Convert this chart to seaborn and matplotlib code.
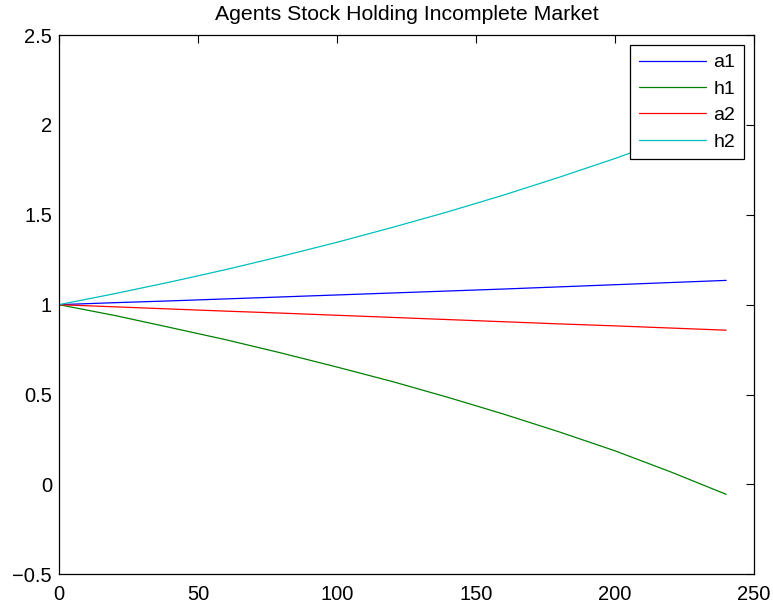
import matplotlib
matplotlib.use("Agg")
import matplotlib.pyplot as plt
import matplotlib.ticker as mticker
import pandas as pd
import seaborn as sns

# Time periods and agents' stock holdings
periods = [0, 20, 40, 60, 80, 100, 120, 140, 160, 180, 200, 220, 240]
a1 = [1.000, 1.011, 1.021, 1.032, 1.043, 1.054, 1.065, 1.076, 1.087, 1.099, 1.111, 1.123, 1.135]
h1 = [1.000, 0.940, 0.873, 0.805, 0.731, 0.653, 0.572, 0.484, 0.391, 0.292, 0.187, 0.070, -0.055]
a2 = [1.000, 0.988, 0.976, 0.964, 0.953, 0.941, 0.929, 0.917, 0.905, 0.893, 0.882, 0.870, 0.858]
h2 = [1.000, 1.061, 1.126, 1.195, 1.269, 1.347, 1.430, 1.517, 1.610, 1.709, 1.813, 1.924, 2.042]

series_names = ["a1", "h1", "a2", "h2"]
series_colors = ["#0000ff", "#008000", "#ff0000", "#00bfbf"]
x_ticks = [0, 50, 100, 150, 200, 250]
y_ticks = [-0.5, 0, 0.5, 1, 1.5, 2, 2.5]

frames = []
for name, vals in zip(series_names, [a1, h1, a2, h2]):
    frames.append(pd.DataFrame({"t": periods, "holding": vals, "agent": name}))
df = pd.concat(frames, ignore_index=True)

sns.set_style("white")
plt.rcParams["font.family"] = ["Liberation Sans", "DejaVu Sans"]
plt.rcParams["text.color"] = "black"
plt.rcParams["xtick.direction"] = "in"
plt.rcParams["ytick.direction"] = "in"

fig = plt.figure(figsize=(7.73, 6.10), dpi=100)
ax = fig.add_axes([0.0763, 0.0585, 0.8991, 0.8841])

sns.lineplot(data=df, x="t", y="holding", hue="agent", hue_order=series_names,
             palette=series_colors, linewidth=0.9, ax=ax, legend=True)

ax.set_xlim(0, 250)
ax.set_ylim(-0.5, 2.5)
ax.set_xticks(x_ticks)
ax.set_yticks(y_ticks)
fmt = mticker.FuncFormatter(lambda v, p: ("%g" % v).replace("-", "\u2212"))
ax.xaxis.set_major_formatter(fmt)
ax.yaxis.set_major_formatter(fmt)
ax.tick_params(axis="both", which="both", direction="in", length=6, width=0.8,
               top=True, right=True, labelsize=14.5, colors="black")
ax.tick_params(axis="x", pad=8)
ax.tick_params(axis="y", pad=5)
for s in ax.spines.values():
    s.set_color("black")
    s.set_linewidth(0.9)
ax.set_xlabel("")
ax.set_ylabel("")
ax.set_title("Agents Stock Holding Incomplete Market", fontsize=15.3, pad=11,
             color="black")

handles, labels = ax.get_legend_handles_labels()
leg = ax.legend(handles, labels, loc="upper right", fontsize=14, frameon=True,
                fancybox=False, edgecolor="black", framealpha=1,
                borderaxespad=0.52, handlelength=3.45, handletextpad=0.36,
                labelspacing=0.45, borderpad=0.45)
leg.get_frame().set_linewidth(0.9)
for ln in leg.get_lines():
    ln.set_linewidth(0.9)
for txt in leg.get_texts():
    txt.set_color("black")

fig.savefig("out.png", dpi=100)
